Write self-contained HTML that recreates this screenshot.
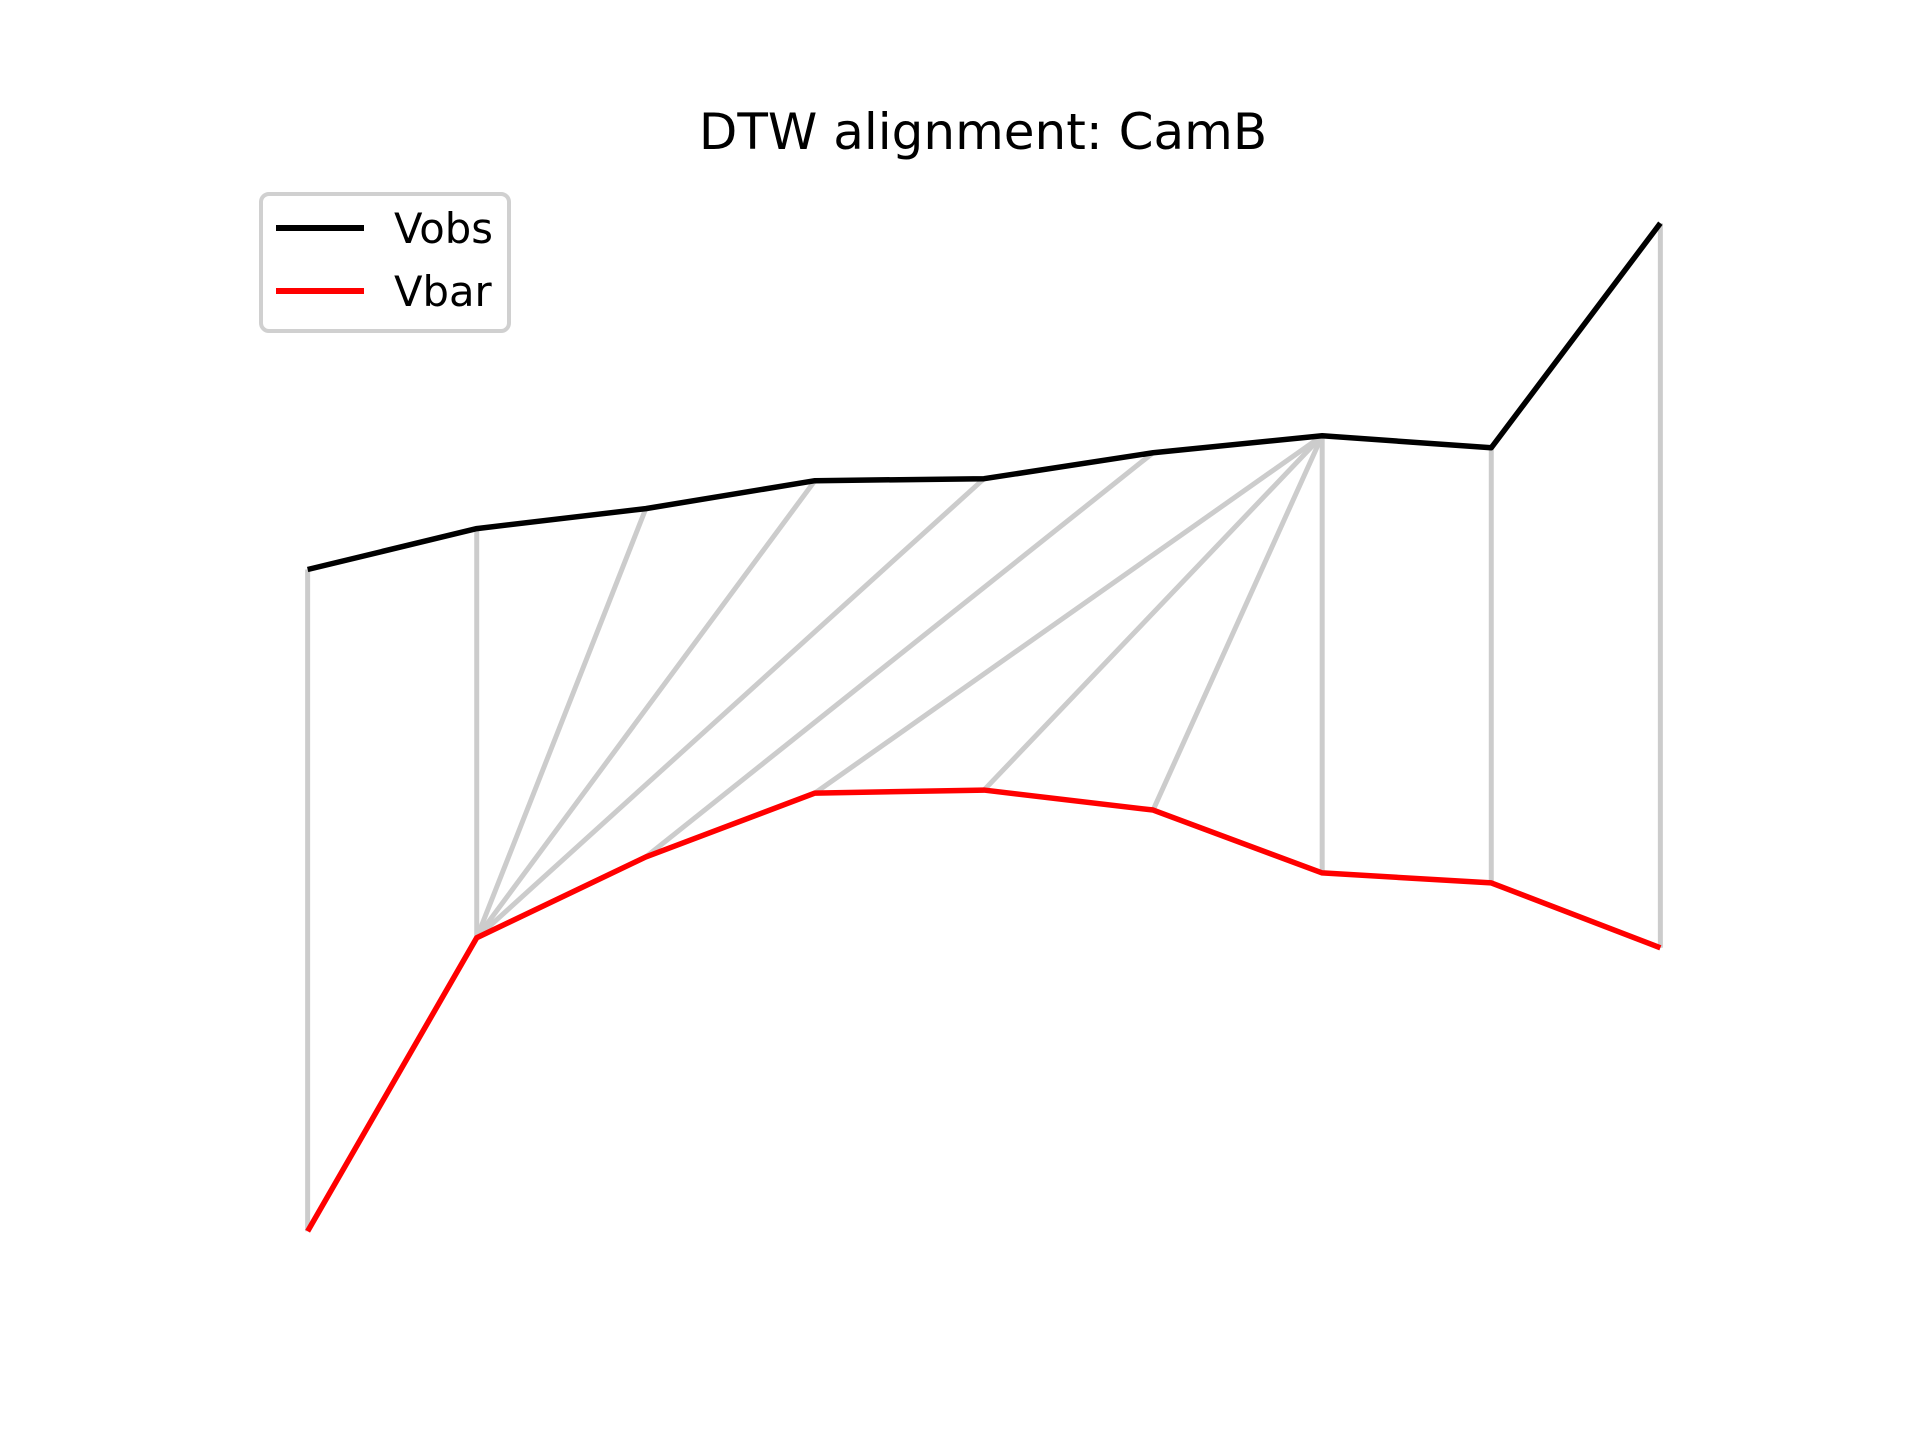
<!DOCTYPE html>
<html><head><meta charset="utf-8"><style>
body{margin:0;background:#fff;}
svg{display:block;font-family:"DejaVu Sans","Liberation Sans",sans-serif;}
</style></head><body>
<svg id="chart" width="1920" height="1440" viewBox="0 0 1920 1440">
<rect width="1920" height="1440" fill="#fff"/>
<text x="983" y="149" font-size="50" text-anchor="middle" fill="#000">DTW alignment: CamB</text>
<g id="links"></g>
<g id="series"></g>
<g>
<rect x="261" y="194" width="248" height="137" rx="8" fill="#fff" fill-opacity="0.8" stroke="#d0d0d0" stroke-width="4"/>
<line x1="276" y1="228" x2="364" y2="228" stroke="#000" stroke-width="6"/>
<text x="394" y="243" font-size="41.7" fill="#000">Vobs</text>
<line x1="276" y1="291" x2="364" y2="291" stroke="#ff0000" stroke-width="6"/>
<text x="394" y="306" font-size="41.7" fill="#000">Vbar</text>
</g>
</svg>
<script>
const vobs = [6.63, 7.04, 7.24, 7.52, 7.54, 7.80, 7.97, 7.85, 10.10];
const vbar = [0.00, 2.94, 3.75, 4.39, 4.42, 4.22, 3.59, 3.49, 2.84];
const pathObs = [0, 1, 2, 3, 4, 5, 6, 6, 6, 6, 7, 8];
const pathBar = [0, 1, 1, 1, 1, 2, 3, 4, 5, 6, 7, 8];

const AX = {l:240, r:1728, t:172.8, b:1281.6};
const n = vobs.length;
const xMin = -0.05*(n-1), xMax = (n-1)*1.05;
const all = vobs.concat(vbar);
const dMin = Math.min(...all), dMax = Math.max(...all);
const yMin = dMin - 0.05*(dMax-dMin), yMax = dMax + 0.05*(dMax-dMin);
function xs(i){ return AX.l + (i - xMin)/(xMax - xMin)*(AX.r - AX.l); }
function ys(v){ return AX.b - (v - yMin)/(yMax - yMin)*(AX.b - AX.t); }

const NS = "http://www.w3.org/2000/svg";
const links = document.getElementById('links');
for (let k = 0; k < pathObs.length; k++) {
  const i = pathObs[k], j = pathBar[k];
  const l = document.createElementNS(NS, 'line');
  l.setAttribute('x1', xs(i)); l.setAttribute('y1', ys(vobs[i]));
  l.setAttribute('x2', xs(j)); l.setAttribute('y2', ys(vbar[j]));
  l.setAttribute('stroke', '#cccccc'); l.setAttribute('stroke-width', '5');
  
  
  links.appendChild(l);
}
const series = document.getElementById('series');
function drawLine(vals, color, name) {
  const p = document.createElementNS(NS, 'polyline');
  p.setAttribute('points', vals.map((v, i) => xs(i) + ',' + ys(v)).join(' '));
  p.setAttribute('fill', 'none'); p.setAttribute('stroke', color);
  p.setAttribute('stroke-width', '5.5'); p.setAttribute('stroke-linejoin', 'round');
  
  
  series.appendChild(p);
}
drawLine(vobs, '#000000', 'vobs-line');
drawLine(vbar, '#ff0000', 'vbar-line');
</script>
</body></html>
